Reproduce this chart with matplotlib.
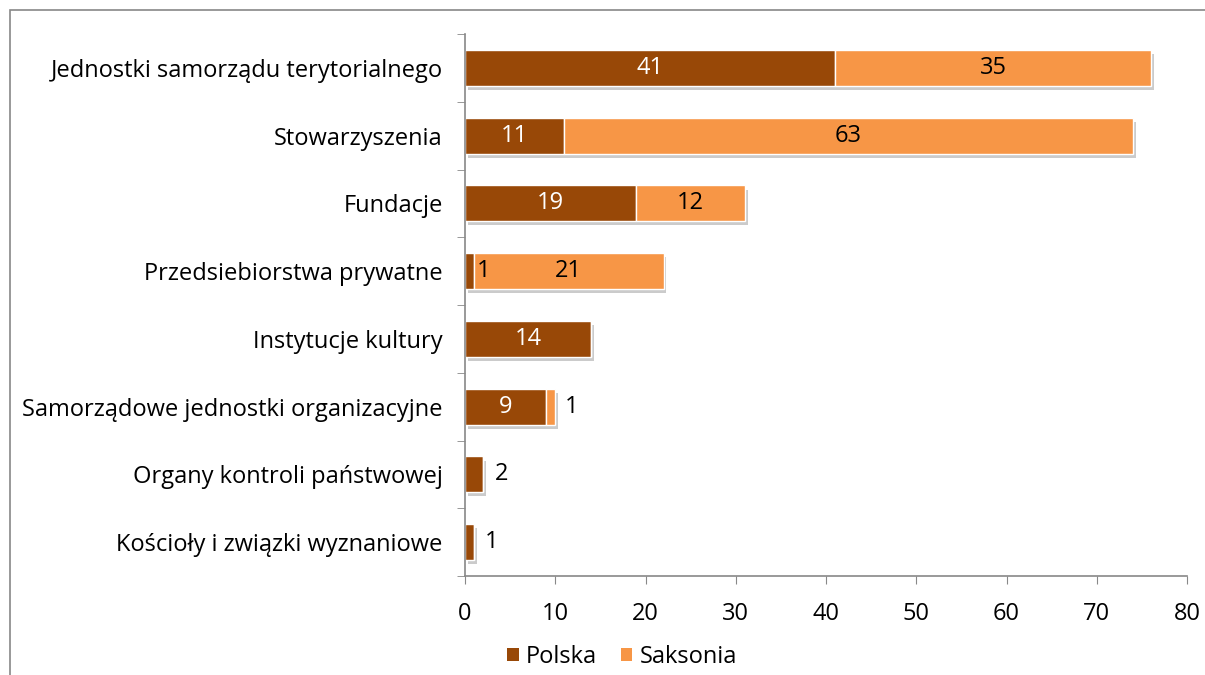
import numpy as np
import matplotlib.pyplot as plt
import matplotlib.patheffects as pe
from matplotlib.patches import Rectangle

categories = ['Jednostki samorządu terytorialnego', 'Stowarzyszenia', 'Fundacje',
              'Przedsiebiorstwa prywatne', 'Instytucje kultury',
              'Samorządowe jednostki organizacyjne', 'Organy kontroli państwowej',
              'Kościoły i związki wyznaniowe']
polska = [41, 11, 19, 1, 14, 9, 2, 1]
saksonia = [35, 63, 12, 21, 0, 1, 0, 0]

c_pl = '#984807'
c_sa = '#F79646'
fs = 17

plt.rcParams['font.family'] = ['Open Sans', 'DejaVu Sans']

fig = plt.figure(figsize=(12.05, 6.75), dpi=100)
fig.patches.append(Rectangle((10 / 1205, -0.1), 1.2, 1 - 10 / 675 + 0.1,
                             transform=fig.transFigure, fill=False,
                             edgecolor='#888888', lw=1.2))
ax = fig.add_axes([465 / 1205, 1 - 576 / 675, (1187 - 465) / 1205, (576 - 34) / 675])

y = np.arange(len(categories))
shadow = [pe.SimplePatchShadow(offset=(2, -3), shadow_rgbFace='#999999', alpha=0.5), pe.Normal()]
b1 = ax.barh(y, polska, height=0.53, color=c_pl, edgecolor='white', lw=1, label='Polska',
             path_effects=shadow)
b2 = ax.barh(y, saksonia, left=polska, height=0.53, color=c_sa, edgecolor='white', lw=1,
             label='Saksonia', path_effects=shadow)

for i in range(len(categories)):
    p, s = polska[i], saksonia[i]
    if p >= 5:
        ax.text(p / 2, i, str(p), color='white', ha='center', va='center', fontsize=fs)
    elif s > 0:
        ax.text(p + 0.3, i, str(p), color='black', ha='left', va='center', fontsize=fs)
    else:
        ax.text(p + 2, i, str(p), color='black', ha='center', va='center', fontsize=fs)
    if s >= 5:
        ax.text(p + s / 2, i, str(s), color='black', ha='center', va='center', fontsize=fs)
    elif s > 0:
        ax.text(p + s + 1.8, i, str(s), color='black', ha='center', va='center', fontsize=fs)

ax.set_xlim(0, 80)
ax.set_ylim(len(categories) - 0.5, -0.5)
ax.set_xticks(np.arange(0, 81, 10))
ax.set_yticks(y)
ax.set_yticklabels(categories, fontsize=fs)
ax.set_yticks(np.arange(-0.5, len(categories), 1), minor=True)
ax.tick_params(axis='y', which='major', length=0, pad=16)
ax.tick_params(axis='y', which='minor', length=6, color='#888888', direction='out')
ax.tick_params(axis='x', length=6, color='#888888', labelsize=fs, pad=13)
for s in ['top', 'right']:
    ax.spines[s].set_visible(False)
for s in ['left', 'bottom']:
    ax.spines[s].set_color('#888888')
    ax.spines[s].set_linewidth(1.2)

leg = fig.legend(handles=[b1, b2], loc='center', bbox_to_anchor=(622 / 1205, 1 - 657 / 675),
                 ncol=2, frameon=False, fontsize=fs, handlelength=0.5, handleheight=0.5,
                 handletextpad=0.3, columnspacing=1.0)
for h in leg.legend_handles:
    h.set_path_effects([])
    h.set_edgecolor('none')

fig.savefig('out.png', dpi=100)
